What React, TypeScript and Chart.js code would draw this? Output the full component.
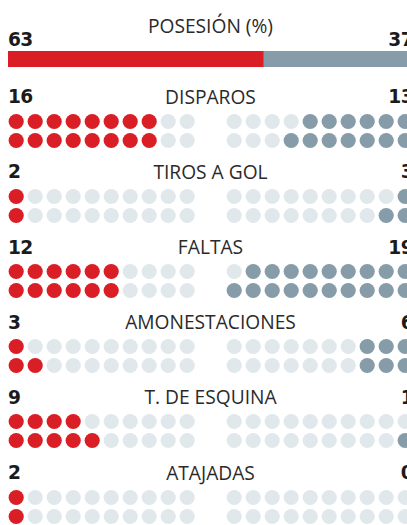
import React, { useEffect, useLayoutEffect, useRef } from "react";
import { Chart, registerables } from "chart.js";

Chart.register(...registerables);

// ---------- data ----------
const possessionTitle = "POSESIÓN (%)";
const possessionHome = 63;
const possessionAway = 37;

const statTitles = ["DISPAROS", "TIROS A GOL", "FALTAS", "AMONESTACIONES", "T. DE ESQUINA", "ATAJADAS"];
const homeValues = [16, 2, 12, 3, 9, 2];
const awayValues = [13, 3, 19, 6, 1, 0];

const COLS_PER_SIDE = 10;
const ROWS = 2;

// ---------- style ----------
const RED = "#d91e26";
const BLUE = "#869ca9";
const EMPTY = "#e1e8ec";
const TEXT = "#2a2a2a";
const NUM = "#1b1b1b";
const TITLE_FONT = "'Open Sans', sans-serif";
const NUM_FONT = "'DejaVu Sans', sans-serif";
const TITLE_RATIO = 0.888; // baseline offset / size with line-height = size (Open Sans)
const NUM_RATIO = 0.846; // DejaVu Sans

const WIDTH = 405;
const HEIGHT = 517;
const TITLE_SIZE = 19.2;
const NUM_SIZE = 18.6;
const SECTION_PITCH = 75.1;
const FIRST_BASELINE = 96.1;
const BASE_TO_ROW = 17.4;
const DOT_PITCH = 19;
const DOT_RADIUS = 7.6;

// x scale in "column" units: left columns 0..9, right columns 11.474..20.474
const RIGHT_OFFSET = 11.474;
const X_MIN = -0.4316;
const X_MAX = X_MIN + WIDTH / DOT_PITCH;

function Txt(props: { text: string; baseline: number; size: number; weight: number; align: "left" | "center" | "right"; color: string; font: string; ratio: number; spacing?: number }) {
  const { text, baseline, size, weight, align, color, font, ratio, spacing } = props;
  const style: React.CSSProperties = {
    position: "absolute",
    top: baseline - ratio * size,
    left: 0,
    width: WIDTH,
    textAlign: align,
    fontFamily: font,
    fontSize: size,
    lineHeight: `${size}px`,
    fontWeight: weight,
    letterSpacing: spacing ?? 0,
    color,
    whiteSpace: "nowrap",
    margin: 0,
  };
  return <div style={style}>{text}</div>;
}

function Title(props: { text: string; baseline: number }) {
  return <Txt text={props.text} baseline={props.baseline} size={TITLE_SIZE} weight={400} align="center" color={TEXT} font={TITLE_FONT} ratio={TITLE_RATIO} />;
}

function Num(props: { value: number; baseline: number; align: "left" | "right" }) {
  return <Txt text={String(props.value)} baseline={props.baseline} size={NUM_SIZE} weight={700} align={props.align} color={NUM} font={NUM_FONT} ratio={NUM_RATIO} spacing={-0.6} />;
}

function PossessionBar(props: { top: number }) {
  const ref = useRef<HTMLCanvasElement>(null);
  useEffect(() => {
    if (!ref.current) return;
    const chart = new Chart(ref.current, {
      type: "bar",
      data: {
        labels: [possessionTitle],
        datasets: [
          { data: [possessionHome], backgroundColor: RED, borderWidth: 0, barPercentage: 1, categoryPercentage: 1 },
          { data: [possessionAway], backgroundColor: BLUE, borderWidth: 0, barPercentage: 1, categoryPercentage: 1 },
        ],
      },
      options: {
        indexAxis: "y",
        animation: false,
        responsive: false,
        maintainAspectRatio: false,
        events: [],
        layout: { padding: 0, autoPadding: false },
        plugins: { legend: { display: false }, tooltip: { enabled: false } },
        scales: {
          x: { stacked: true, min: 0, max: possessionHome + possessionAway, display: false },
          y: { stacked: true, display: false },
        },
      },
    });
    return () => chart.destroy();
  }, []);
  return (
    <canvas ref={ref} width={WIDTH} height={16}
      style={{ position: "absolute", left: 0, top: props.top, width: WIDTH, height: 16, display: "block" }} />
  );
}

function buildDots(home: number, away: number) {
  const pts: { x: number; y: number }[] = [];
  const colors: string[] = [];
  for (let r = 0; r < ROWS; r++) {
    // top row gets the smaller half, bottom row the larger half
    const homeInRow = r === 0 ? Math.floor(home / 2) : Math.ceil(home / 2);
    const awayInRow = r === 0 ? Math.floor(away / 2) : Math.ceil(away / 2);
    for (let c = 0; c < COLS_PER_SIDE; c++) {
      pts.push({ x: c, y: r });
      colors.push(c < homeInRow ? RED : EMPTY);
    }
    for (let c = 0; c < COLS_PER_SIDE; c++) {
      pts.push({ x: c + RIGHT_OFFSET, y: r });
      colors.push(c >= COLS_PER_SIDE - awayInRow ? BLUE : EMPTY);
    }
  }
  return { pts, colors };
}

function DotGrid(props: { home: number; away: number; top: number }) {
  const ref = useRef<HTMLCanvasElement>(null);
  const { home, away, top } = props;
  const h = ROWS * DOT_PITCH;
  useEffect(() => {
    if (!ref.current) return;
    const { pts, colors } = buildDots(home, away);
    const chart = new Chart(ref.current, {
      type: "scatter",
      data: { datasets: [{ data: pts, pointBackgroundColor: colors, pointBorderWidth: 0, pointRadius: DOT_RADIUS, pointHoverRadius: DOT_RADIUS }] },
      options: {
        animation: false,
        responsive: false,
        maintainAspectRatio: false,
        events: [],
        layout: { padding: 0, autoPadding: false },
        plugins: { legend: { display: false }, tooltip: { enabled: false } },
        scales: {
          x: { type: "linear", min: X_MIN, max: X_MAX, display: false },
          y: { type: "linear", min: -0.5, max: ROWS - 0.5, reverse: true, display: false },
        },
      },
    });
    return () => chart.destroy();
  }, [home, away]);
  return (
    <canvas ref={ref} width={WIDTH} height={h}
      style={{ position: "absolute", left: 0, top, width: WIDTH, height: h, display: "block" }} />
  );
}

export default function App() {
  useLayoutEffect(() => {
    // The graphic is wider than the window: let the body reach the right/bottom edges
    // and clip the graphic there, so nothing overflows the page.
    document.body.style.marginRight = "0px";
    document.body.style.marginBottom = "0px";
    const root = document.getElementById("root");
    if (root) {
      root.style.width = "399px";
      root.style.overflow = "hidden";
    }
  }, []);
  return (
    <div style={{ position: "relative", width: WIDTH, height: HEIGHT }}>
      <Title text={possessionTitle} baseline={25} />
      <Num value={possessionHome} baseline={38.7} align="left" />
      <Num value={possessionAway} baseline={38.7} align="right" />
      <PossessionBar top={43} />
      {statTitles.map((t, i) => {
        const baseline = FIRST_BASELINE + SECTION_PITCH * i;
        const rowTop = baseline + BASE_TO_ROW - DOT_PITCH / 2;
        return (
          <React.Fragment key={t}>
            <Title text={t} baseline={baseline} />
            <Num value={homeValues[i]} baseline={baseline} align="left" />
            <Num value={awayValues[i]} baseline={baseline} align="right" />
            <DotGrid home={homeValues[i]} away={awayValues[i]} top={rowTop} />
          </React.Fragment>
        );
      })}
    </div>
  );
}
